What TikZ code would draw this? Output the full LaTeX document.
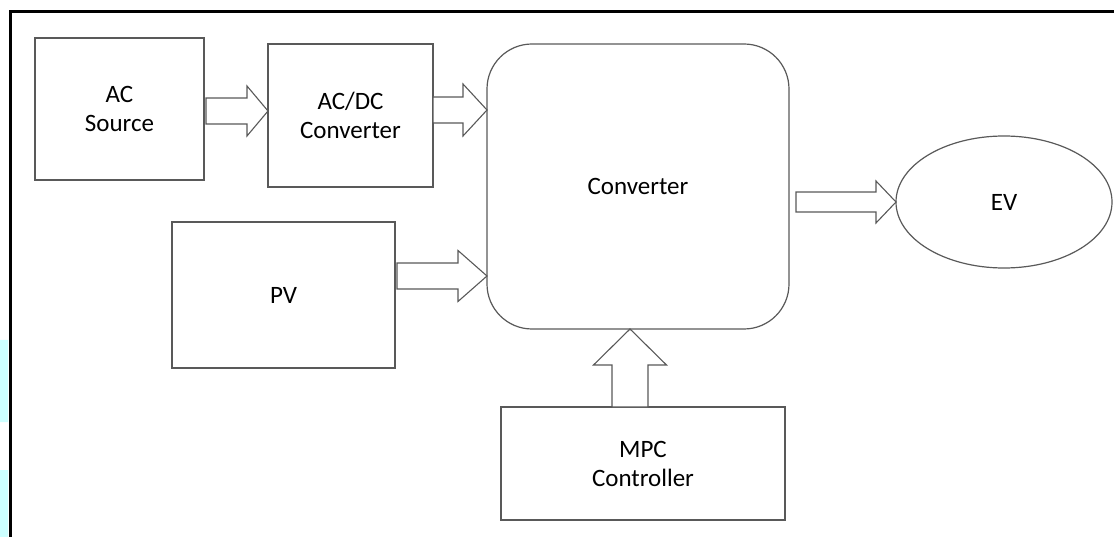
\documentclass[tikz,border=0pt]{standalone}
\usepackage{fontspec}
\setmainfont{Carlito}
\usetikzlibrary{calc,shapes.geometric}

\definecolor{edgegray}{HTML}{595959}
\definecolor{tintcyan}{HTML}{CCFFFF}

\tikzset{
  box/.style={draw=edgegray,line width=1.2pt,inner sep=0pt,outer sep=0pt,
    align=center,font=\fontsize{25}{29}\selectfont},
  flow/.style={draw=edgegray,line width=1.1pt,line join=miter,fill=white},
}

% hollow block arrow, tip at #2, pointing right
\newcommand{\blockr}[5]{%
  \draw[flow] let \p1=(#1), \p2=(#2) in
    (\x1,\y2+#3) -- (\x2-#5,\y2+#3) -- (\x2-#5,\y2+#4) -- (\p2)
    -- (\x2-#5,\y2-#4) -- (\x2-#5,\y2-#3) -- (\x1,\y2-#3) -- cycle;}
% the same, pointing up
\newcommand{\blocku}[5]{%
  \draw[flow] let \p1=(#1), \p2=(#2) in
    (\x2-#3,\y1) -- (\x2-#3,\y2-#5) -- (\x2-#4,\y2-#5) -- (\p2)
    -- (\x2+#4,\y2-#5) -- (\x2+#3,\y2-#5) -- (\x2+#3,\y1) -- cycle;}

\begin{document}
\begin{tikzpicture}[x=1pt,y=-1pt]
\useasboundingbox (0,0) rectangle (1114,537);
\fill[tintcyan] (0,340) rectangle (8,422) (0,470) rectangle (8,537);
\draw[line width=3pt] (10,537) -- (10,12) -- (1114,12);

\node (acs)  [box,minimum width=169,minimum height=142] at (119.5,109) {AC\\Source};
\node (acdc) [box,minimum width=165,minimum height=143] at (350.5,115.5) {AC/DC\\Converter};
\node (conv) [box,rounded corners=45pt,minimum width=302,minimum height=285] at (638,186.5) {Converter};
\node (pv)   [box,minimum width=223,minimum height=146] at (283.5,295) {PV};
\node (mpc)  [box,minimum width=284,minimum height=113] at (643,463.5) {MPC\\Controller};
\node (ev)   [box,ellipse,minimum width=216,minimum height=132] at (1004,202) {EV};

\blockr{$(acs.east)+(2,0)$}{$(acdc.west)+(0,-4.5)$}{13}{25}{21}
\blockr{acdc.east}{$(conv.west)+(0,-76.5)$}{13}{26}{24}
\blockr{$(pv.east)+(2,0)$}{$(conv.west)+(0,89.5)$}{13}{25.5}{29}
\blockr{$(conv.east)+(7,0)$}{ev.west}{10}{21}{20}
\blocku{mpc.north}{$(conv.south)+(-8,0)$}{18}{36.5}{36}
\end{tikzpicture}
\end{document}
